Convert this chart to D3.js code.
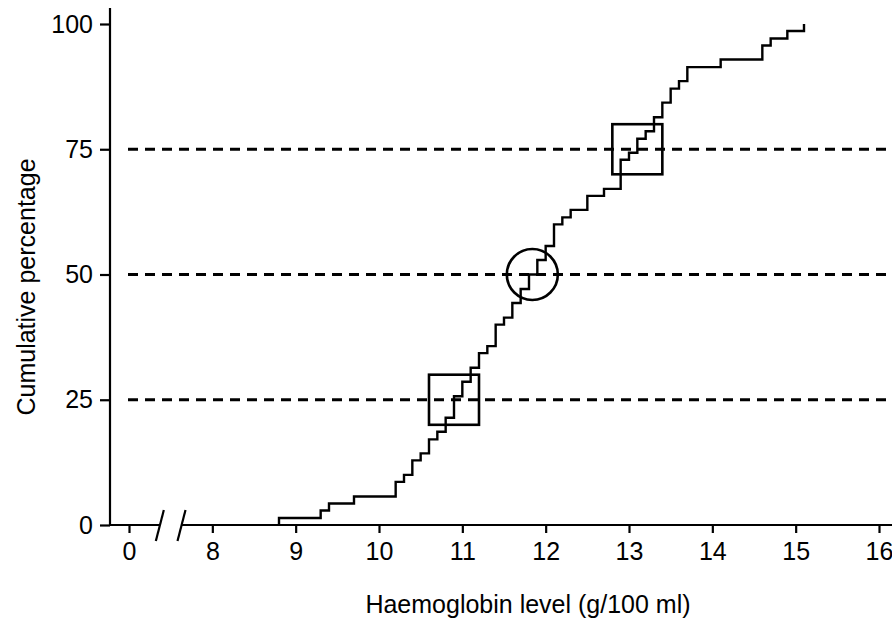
<!DOCTYPE html>
<html>

<head>
    <meta charset="utf-8">
    <title>Cumulative haemoglobin</title>
    <script src="https://d3js.org/d3.v7.min.js"></script>
    <style>
        body { margin: 0; background: #fff; }
        svg { display: block; font-family: "Liberation Sans", Arial, sans-serif; }
    </style>
</head>

<body>

    <div id="graph"></div>

    <script>
        // haemoglobin level at each step, and cumulative % reached there
        const hb = [8.8, 9.3, 9.4, 9.7, 10.2, 10.3, 10.4, 10.5, 10.6, 10.7, 10.8, 10.9, 11.0, 11.1,
            11.2, 11.3, 11.4, 11.5, 11.6, 11.7, 11.8, 11.9, 12.0, 12.1, 12.2, 12.3, 12.5, 12.7,
            12.9, 13.0, 13.1, 13.2, 13.3, 13.4, 13.5, 13.6, 13.7, 14.1, 14.6, 14.7, 14.9, 15.1];
        const cumPct = [1.4, 2.9, 4.3, 5.7, 8.6, 10.0, 12.9, 14.3, 17.1, 18.6, 21.4, 25.7, 28.6, 31.4,
            34.3, 35.7, 40.0, 41.4, 44.3, 47.1, 50.0, 52.9, 55.7, 60.0, 61.4, 62.9, 65.7, 67.1,
            72.9, 74.3, 77.1, 78.6, 81.4, 84.3, 87.1, 88.6, 91.4, 92.9, 95.7, 97.1, 98.6, 100];

        const xTicks = [0, 8, 9, 10, 11, 12, 13, 14, 15, 16];
        const yTicks = [0, 25, 50, 75, 100];
        const quartiles = [25, 50, 75];

        // boxes round the lower and upper quartiles, circle round the median
        const boxX0 = [10.6, 12.8];
        const boxX1 = [11.2, 13.4];
        const boxY0 = [20, 70];
        const boxY1 = [30, 80];
        const medianHb = 11.84;

        const width = 892, height = 622;

        const svg = d3.select("#graph").append("svg")
            .attr("width", width)
            .attr("height", height);

        // axis is broken between 0 and 8: 0 sits one unit left of 8
        const xScale = d3.scaleLinear().domain([7, 16]).range([129, 879]);
        const y = d3.scaleLinear().domain([0, 100]).range([525, 24]);

        const left = 110, right = 892;
        const brkA = 7.37, brkB = 7.63;

        // dashed reference lines
        svg.append("g")
            .selectAll("line")
            .data(quartiles)
            .join("line")
            .attr("x1", 128)
            .attr("x2", right)
            .attr("y1", d => y(d))
            .attr("y2", d => y(d))
            .attr("stroke", "#000")
            .attr("stroke-width", 2.8)
            .attr("stroke-dasharray", "10,7");

        // y axis
        const yAxis = svg.append("g")
            .attr("transform", `translate(${left},0)`)
            .call(d3.axisLeft(y).tickValues(yTicks).tickSize(10).tickPadding(7));
        yAxis.select(".domain").remove();
        yAxis.append("line")
            .attr("y1", 8)
            .attr("y2", y(0))
            .attr("stroke", "#000")
            .attr("stroke-width", 2.2);

        // x axis
        const xAxis = svg.append("g")
            .attr("transform", `translate(0,${y(0)})`)
            .call(d3.axisBottom(xScale)
                .tickValues(xTicks.map(v => v === 0 ? 7 : v))
                .tickFormat((d, i) => xTicks[i])
                .tickSize(8).tickPadding(9));
        xAxis.select(".domain").remove();
        xAxis.append("line")
            .attr("x1", left)
            .attr("x2", xScale(brkA))
            .attr("stroke", "#000")
            .attr("stroke-width", 2.2);
        xAxis.append("line")
            .attr("x1", xScale(brkB))
            .attr("x2", right)
            .attr("stroke", "#000")
            .attr("stroke-width", 2.2);
        xAxis.selectAll(".brk")
            .data([brkA, brkB])
            .join("line")
            .attr("class", "brk")
            .attr("x1", d => xScale(d) - 4)
            .attr("x2", d => xScale(d) + 4)
            .attr("y1", 16)
            .attr("y2", -15)
            .attr("stroke", "#000")
            .attr("stroke-width", 2.2);

        svg.selectAll(".tick line")
            .attr("stroke-width", 2.2);
        svg.selectAll(".tick text")
            .attr("font-size", 25)
            .attr("font-family", "Liberation Sans, Arial, sans-serif")
            .attr("fill", "#000");

        // step curve
        const pts = [[hb[0], 0]].concat(hb.map((h, i) => [h, cumPct[i]]));
        const line = d3.line()
            .x(d => xScale(d[0]))
            .y(d => y(d[1]))
            .curve(d3.curveStepAfter);

        svg.append("path")
            .attr("d", line(pts))
            .attr("fill", "none")
            .attr("stroke", "#000")
            .attr("stroke-width", 2.4);

        // quartile boxes
        svg.append("g")
            .selectAll("rect")
            .data(boxX0)
            .join("rect")
            .attr("x", (d, i) => xScale(boxX0[i]))
            .attr("width", (d, i) => xScale(boxX1[i]) - xScale(boxX0[i]))
            .attr("y", (d, i) => y(boxY1[i]))
            .attr("height", (d, i) => y(boxY0[i]) - y(boxY1[i]))
            .attr("fill", "none")
            .attr("stroke", "#000")
            .attr("stroke-width", 2.6);

        svg.append("circle")
            .attr("cx", xScale(medianHb))
            .attr("cy", y(50))
            .attr("r", 25.5)
            .attr("fill", "none")
            .attr("stroke", "#000")
            .attr("stroke-width", 2.6);

        // axis titles
        svg.append("text")
            .attr("x", 528)
            .attr("y", 613)
            .attr("text-anchor", "middle")
            .attr("font-size", 25)
            .text("Haemoglobin level (g/100 ml)");

        svg.append("text")
            .attr("transform", "translate(35,287) rotate(-90)")
            .attr("text-anchor", "middle")
            .attr("font-size", 25)
            .text("Cumulative percentage");
    </script>
</body>

</html>
